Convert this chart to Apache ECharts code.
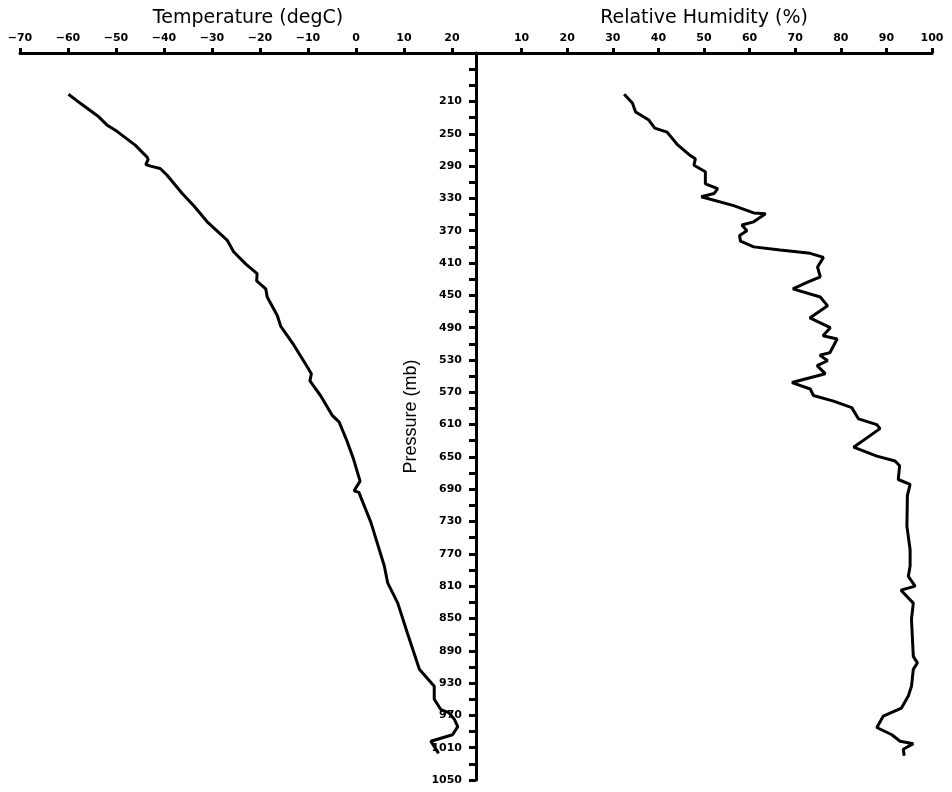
<!DOCTYPE html>
<html>
<head>
<meta charset="utf-8">
<script src="https://cdn.jsdelivr.net/npm/echarts@6/dist/echarts.min.js"></script>
<style>
  html, body { margin: 0; padding: 0; background: #fff; }
  #chart { width: 952px; height: 792px; }
</style>
</head>
<body>
<div id="chart"></div>
<script>
// Temperature profile (degC vs pressure mb)
const tempPressure = [201, 212, 229, 239, 247, 264, 279, 282, 288, 290, 293, 301, 324, 339, 359, 382, 396, 411, 423, 432, 442, 452, 475, 488, 512, 539, 547, 556, 574, 599, 607, 630, 653, 680, 692, 694, 731, 785, 806, 831, 868, 913, 934, 950, 963, 967, 975, 984, 994, 1002, 1017]
const tempValues   = [-59.9, -57.5, -53.6, -51.9, -49.8, -46.0, -43.5, -43.3, -43.8, -42.8, -40.8, -39.4, -36.2, -33.8, -31.0, -26.8, -25.5, -23.0, -20.6, -20.7, -18.8, -18.5, -16.4, -15.7, -12.9, -10.1, -9.3, -9.6, -7.4, -4.9, -3.5, -1.9, -0.5, 0.85, -0.4, 0.6, 3.1, 5.9, 6.6, 8.7, 10.7, 13.2, 16.3, 16.3, 17.7, 19.4, 20.5, 21.2, 20.1, 15.6, 17.2]

// Relative humidity profile (% vs pressure mb)
const rhPressure = [201, 212, 223, 233, 243, 248, 263, 277, 281, 289, 297, 312, 318, 324, 328, 339, 348, 349, 359, 363, 370, 376, 383, 390, 394, 398, 403, 415, 427, 434, 442, 452, 463, 478, 490, 500, 504, 521, 524, 531, 537, 547, 558, 566, 574, 581, 589, 603, 610, 615, 638, 649, 655, 661, 678, 684, 698, 736, 765, 785, 798, 810, 815, 831, 851, 897, 905, 913, 934, 946, 961, 971, 985, 994, 1002, 1005, 1012, 1020]
const rhValues   = [32.5, 34.3, 35.0, 37.9, 39.2, 41.9, 44.1, 47.0, 48.1, 47.8, 50.3, 50.3, 53.0, 52.2, 49.4, 56.5, 60.9, 63.5, 60.9, 58.3, 59.4, 57.8, 58.0, 60.9, 66.7, 73.3, 76.2, 74.9, 75.5, 72.6, 69.5, 75.5, 77.1, 73.2, 77.7, 76.1, 79.2, 77.6, 75.4, 77.1, 74.8, 76.6, 69.3, 73.3, 74.0, 78.4, 82.4, 83.9, 87.9, 88.6, 82.8, 87.9, 91.9, 92.9, 92.6, 95.2, 94.6, 94.5, 95.2, 95.2, 94.8, 96.3, 93.2, 95.9, 95.5, 95.9, 96.8, 95.9, 95.5, 94.8, 93.3, 89.3, 87.9, 91.2, 93.0, 95.9, 93.7, 93.9]

// Pressure axis ticks and labels
const pressureLabels = []
for (let p = 210; p <= 1050; p += 40) pressureLabels.push(p)
const pressureTicks = []
for (let p = 170; p <= 1050; p += 20) pressureTicks.push(p)

const labelFont = { fontFamily: 'DejaVu Sans', fontWeight: 'bold', fontSize: 11, color: '#000' }
const nameFont = { fontFamily: 'DejaVu Sans', fontSize: 19, color: '#000' }
const axisLine = { show: true, lineStyle: { color: '#000', width: 3 } }
const plain = (v) => String(v).replace('-', '\u2212')

const chart = echarts.init(document.getElementById('chart'))

chart.setOption({
  animation: false,
  backgroundColor: '#fff',
  grid: [
    { left: 20, right: 476, top: 53, bottom: 12, outerBoundsMode: 'none' },
    { left: 476, right: 20, top: 53, bottom: 12, outerBoundsMode: 'none' },
  ],
  xAxis: [
    {
      gridIndex: 0,
      type: 'value',
      position: 'top',
      min: -70,
      max: 25,
      interval: 10,
      name: 'Temperature (degC)',
      nameLocation: 'middle',
      nameGap: 25,
      nameTextStyle: nameFont,
      axisLine,
      axisTick: { show: true, length: 5, lineStyle: { color: '#000', width: 3 } },
      axisLabel: { ...labelFont, margin: 9, showMaxLabel: false, formatter: plain },
      splitLine: { show: false },
    },
    {
      gridIndex: 1,
      type: 'value',
      position: 'top',
      min: 0,
      max: 100,
      interval: 10,
      name: 'Relative Humidity (%)',
      nameLocation: 'middle',
      nameGap: 25,
      nameTextStyle: nameFont,
      axisLine,
      axisTick: { show: true, length: 5, lineStyle: { color: '#000', width: 3 } },
      axisLabel: { ...labelFont, margin: 9, showMinLabel: false, formatter: plain },
      splitLine: { show: false },
    },
  ],
  yAxis: [
    {
      gridIndex: 0,
      type: 'value',
      min: 150,
      max: 1050,
      inverse: true,
      show: false,
    },
    {
      gridIndex: 1,
      type: 'value',
      position: 'left',
      min: 150,
      max: 1050,
      inverse: true,
      name: 'Pressure (mb)',
      nameLocation: 'middle',
      nameGap: 56,
      nameRotate: 90,
      nameTextStyle: { fontFamily: 'Liberation Sans', fontSize: 18, color: '#000' },
      axisLine,
      axisTick: { show: true, length: 7, customValues: pressureTicks, lineStyle: { color: '#000', width: 3 } },
      axisLabel: { ...labelFont, margin: 14, customValues: pressureLabels, formatter: plain },
      splitLine: { show: false },
    },
  ],
  series: [
    {
      name: 'Temperature',
      type: 'line',
      xAxisIndex: 0,
      yAxisIndex: 0,
      showSymbol: false,
      lineStyle: { color: '#000', width: 3 },
      data: tempValues.map((t, i) => [t, tempPressure[i]]),
    },
    {
      name: 'Relative Humidity',
      type: 'line',
      xAxisIndex: 1,
      yAxisIndex: 1,
      showSymbol: false,
      lineStyle: { color: '#000', width: 3 },
      data: rhValues.map((r, i) => [r, rhPressure[i]]),
    },
  ],
})

window.addEventListener('resize', () => chart.resize())
</script>
</body>
</html>
